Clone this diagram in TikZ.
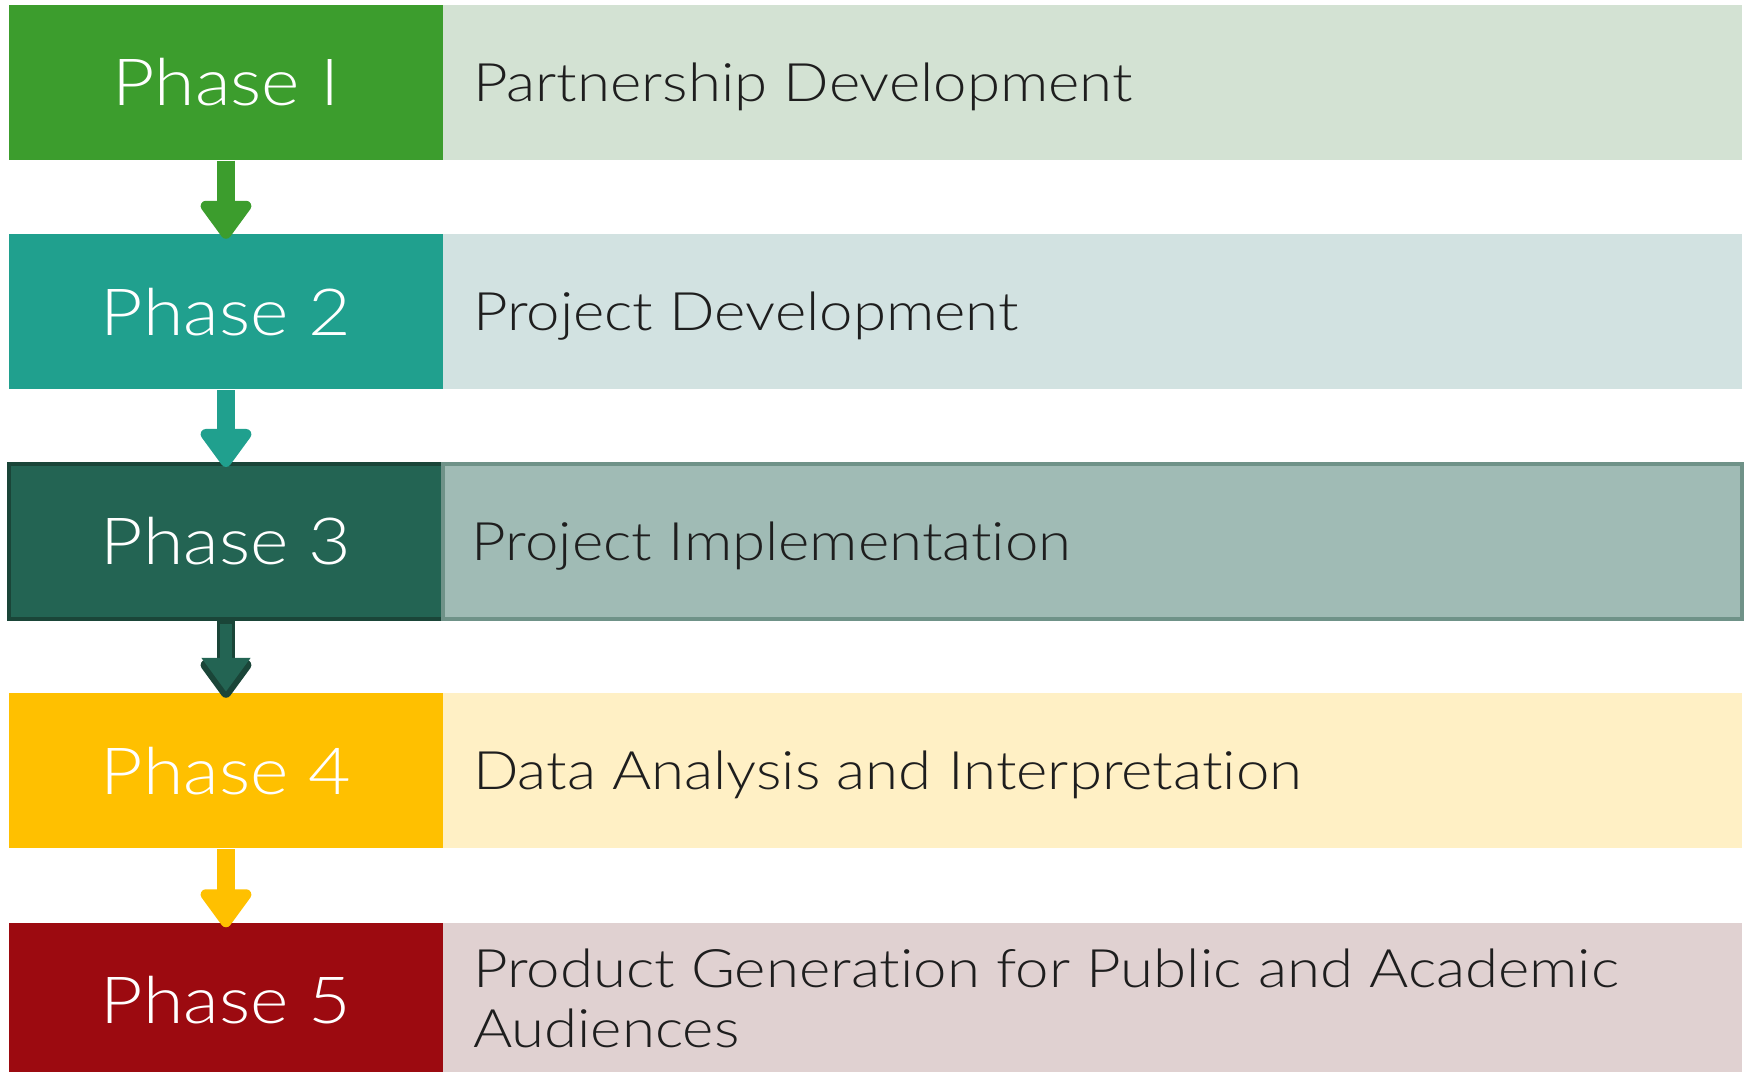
\documentclass[tikz,border=0pt]{standalone}
\usepackage{fontspec}
\IfFontExistsTF{Lato Light}
    {\setmainfont{Lato Light}[FakeStretch=1.13, Ligatures={NoCommon,NoRare,NoContextual}]}
    {\setmainfont{Lato}[FakeStretch=1.13, Ligatures={NoCommon,NoRare,NoContextual}]}
\usetikzlibrary{arrows.meta}

\definecolor{greenA}{HTML}{3C9D2D}
\definecolor{greenB}{HTML}{D3E2D3}
\definecolor{tealA}{HTML}{20A08E}
\definecolor{tealB}{HTML}{D2E2E1}
\definecolor{darkA}{HTML}{236453}
\definecolor{darkB}{HTML}{1A4538}
\definecolor{darkC}{HTML}{A0BBB5}
\definecolor{darkD}{HTML}{6F9288}
\definecolor{yellowA}{HTML}{FFC000}
\definecolor{yellowB}{HTML}{FFF0C5}
\definecolor{redA}{HTML}{9C0A10}
\definecolor{redB}{HTML}{E0D1D1}
\definecolor{textgray}{HTML}{1E1E1E}

\begin{document}
\begin{tikzpicture}[
    phase/.style={rectangle, minimum width=4.34cm, minimum height=1.55cm, inner sep=0pt,
        text=white, font=\fontsize{18.5}{22}\selectfont},
    band/.style={rectangle, minimum width=12.99cm, minimum height=1.55cm, inner sep=0pt},
    desc/.style={anchor=base west, inner sep=0pt, align=left, text=textgray,
        font=\fontsize{15.1}{17.1}\selectfont},
    flow/.style={line width=1.8mm, -{Triangle[width=5.8mm, length=4.2mm, round]}}
]
    \useasboundingbox (0,0) rectangle (17.48,10.72);
    \clip (0,0) rectangle (17.48,10.72);

    % phases
    \node[phase, fill=greenA] at (2.26, 9.895)(p1){Phase I};
    \node[phase, fill=tealA] at (2.26, 7.600)(p2){Phase 2};
    \node[phase, fill=darkA, draw=darkB, line width=0.4mm] at (2.26, 5.305)(p3){Phase 3};
    \node[phase, fill=yellowA] at (2.26, 3.010)(p4){Phase 4};
    \node[phase, fill=redA] at (2.26, 0.715)(p5){Phase 5};

    % bands
    \node[band, fill=greenB] at (10.925, 9.895)(d1){};
    \node[band, fill=tealB] at (10.925, 7.600)(d2){};
    \node[band, fill=darkC, draw=darkD, line width=0.35mm] at (10.925, 5.305)(d3){};
    \node[band, fill=yellowB] at (10.925, 3.010)(d4){};
    \node[band, fill=redB] at (10.925, 0.715)(d5){};

    \node[desc] at ([xshift=3mm, yshift=-1.9mm]d1.west)(t1){Partnership Development};
    \node[desc] at ([xshift=3mm, yshift=-1.9mm]d2.west)(t2){Project Development};
    \node[desc] at ([xshift=3mm, yshift=-1.9mm]d3.west)(t3){Project Implementation};
    \node[desc] at ([xshift=3mm, yshift=-1.9mm]d4.west)(t4){Data Analysis and Interpretation};
    \node[desc] at ([xshift=3mm, yshift=-4.75mm]d5.west)(t5){Product Generation for Public and Academic\\Audiences};

    % arrows
    \draw[flow, greenA] (p1.south) -- ([yshift=-0.5mm]p2.north);
    \draw[flow, tealA] (p2.south) -- ([yshift=-0.5mm]p3.north);
    \draw[flow, darkB] (p3.south) -- ([yshift=-0.5mm]p4.north);
    \draw[line width=1.2mm, darkA, -{Triangle[width=4.7mm, length=3.4mm]}]
        ([yshift=-0.3mm]p3.south) -- ([yshift=0.1mm]p4.north);
    \draw[flow, yellowA] (p4.south) -- ([yshift=-0.5mm]p5.north);
\end{tikzpicture}
\end{document}
